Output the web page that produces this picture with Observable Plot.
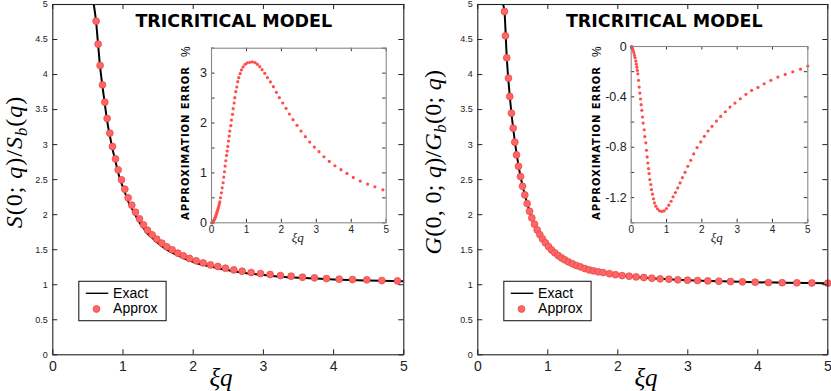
<!DOCTYPE html>
<html><head><meta charset="utf-8">
<script src="https://cdn.jsdelivr.net/npm/d3@7"></script>
<script src="https://cdn.jsdelivr.net/npm/@observablehq/plot@0.6"></script>
<style>
body{margin:0;background:#fff;}
#wrap{position:relative;width:831px;height:391px;overflow:hidden;background:#fff;}
#wrap svg{position:absolute;}
</style></head><body><div id="wrap"></div>
<script>
// ---------- data ----------
const titleText = "TRICRITICAL MODEL";
const legendLabels = ["Exact", "Approx"];
const insetLabel = "APPROXIMATION ERROR";

const mainXTicks = [0,1,2,3,4,5];
const mainYTicks = [0,0.5,1,1.5,2,2.5,3,3.5,4,4.5,5];
const insetXTicks = [0,1,2,3,4,5];
const sErrTicks = [0,0.5,1,1.5,2,2.5,3,3.5];
const sErrLabels = [0,1,2,3];
const gErrTicks = [0,-0.2,-0.4,-0.6,-0.8,-1.0,-1.2,-1.4];
const gErrLabels = [0,-0.4,-0.8,-1.2];

// Left panel: S(0;q)/S_b(q)
const sExactX = [0.584,0.617,0.646,0.674,0.708,0.741,0.774,0.812,0.850,0.893,0.931,0.978,1.026,1.073,1.125,1.178,1.235,1.292,1.349,1.415,1.481,1.553,1.624,1.700,1.781,1.861,1.947,2.042,2.2,2.4,2.6,2.8,3.0,3.3,3.6,4.0,4.5,5.0];
const sExactY = [5.0,4.75,4.42,4.11,3.83,3.58,3.34,3.13,2.94,2.76,2.60,2.45,2.32,2.19,2.09,1.99,1.89,1.81,1.73,1.67,1.61,1.55,1.50,1.46,1.42,1.38,1.345,1.31,1.27,1.225,1.19,1.16,1.14,1.11,1.095,1.075,1.062,1.05];
const sApproxX = [0.617,0.646,0.674,0.708,0.741,0.774,0.812,0.850,0.893,0.931,0.978,1.026,1.073,1.125,1.178,1.235,1.292,1.349,1.415,1.481,1.553,1.624,1.700,1.781,1.861,1.947,2.042,2.142,2.246,2.351,2.460,2.579,2.697,2.826,2.959,3.096,3.244,3.395,3.557,3.728,3.899,4.079,4.269,4.473,4.687,4.910];
const sApproxY = [4.762,4.434,4.129,3.853,3.606,3.373,3.164,2.973,2.797,2.640,2.498,2.364,2.241,2.136,2.036,1.941,1.855,1.779,1.713,1.651,1.594,1.541,1.499,1.451,1.413,1.375,1.342,1.312,1.283,1.260,1.236,1.212,1.193,1.174,1.160,1.146,1.131,1.122,1.107,1.098,1.088,1.079,1.074,1.070,1.060,1.055];
const sErrX = [0.005,0.02,0.03,0.038,0.05,0.067,0.08,0.095,0.11,0.124,0.14,0.152,0.165,0.181,0.195,0.210,0.225,0.238,0.257,0.286,0.305,0.333,0.352,0.371,0.390,0.410,0.429,0.448,0.467,0.486,0.505,0.524,0.552,0.571,0.600,0.619,0.648,0.667,0.695,0.724,0.752,0.781,0.819,0.857,0.905,0.962,1.019,1.095,1.171,1.248,1.314,1.381,1.448,1.524,1.600,1.686,1.771,1.857,1.943,2.038,2.133,2.229,2.333,2.448,2.562,2.686,2.810,2.943,3.076,3.219,3.371,3.533,3.705,3.876,4.057,4.257,4.467,4.676,4.905];
const sErrY = [0.0,0.004,0.008,0.013,0.025,0.047,0.065,0.087,0.112,0.140,0.17,0.201,0.23,0.268,0.30,0.341,0.38,0.421,0.502,0.602,0.702,0.803,0.916,1.023,1.137,1.244,1.351,1.438,1.532,1.639,1.739,1.839,1.946,2.060,2.174,2.288,2.401,2.508,2.629,2.722,2.829,2.910,2.990,3.064,3.124,3.177,3.204,3.217,3.224,3.211,3.177,3.130,3.070,2.997,2.910,2.823,2.729,2.615,2.508,2.401,2.294,2.181,2.067,1.953,1.839,1.726,1.619,1.518,1.425,1.324,1.231,1.144,1.064,0.990,0.910,0.836,0.776,0.722,0.662];

// Right panel: G(0,0;q)/G_b(0;q)
const gExactX = [0.362,0.381,0.414,0.457,0.505,0.557,0.610,0.672,0.739,0.810,0.886,0.967,1.053,1.148,1.243,1.353,1.467,1.591,1.720,1.881,2.062,2.262,2.486,2.729,2.996,3.286,3.610,3.962,4.348,4.772,5.0];
const gExactY = [5.0,4.90,4.24,3.69,3.235,2.85,2.544,2.282,2.049,1.864,1.716,1.597,1.497,1.417,1.355,1.298,1.255,1.212,1.184,1.157,1.131,1.112,1.093,1.079,1.065,1.055,1.046,1.036,1.029,1.025,1.022];
const gApproxX = [0.381,0.395,0.414,0.438,0.457,0.481,0.505,0.529,0.553,0.581,0.610,0.639,0.672,0.705,0.739,0.772,0.810,0.848,0.886,0.924,0.967,1.010,1.053,1.100,1.148,1.196,1.243,1.296,1.353,1.410,1.467,1.529,1.591,1.653,1.720,1.791,1.881,1.967,2.062,2.162,2.262,2.372,2.486,2.605,2.729,2.858,2.996,3.139,3.286,3.443,3.610,3.781,3.962,4.153,4.348,4.558,4.772,5.0];
const gApproxY = [4.900,4.553,4.239,3.949,3.687,3.449,3.235,3.035,2.853,2.691,2.544,2.406,2.282,2.158,2.049,1.954,1.864,1.783,1.716,1.654,1.597,1.545,1.497,1.455,1.417,1.383,1.355,1.326,1.298,1.274,1.255,1.231,1.212,1.198,1.184,1.174,1.157,1.143,1.131,1.122,1.112,1.103,1.093,1.084,1.079,1.070,1.065,1.060,1.055,1.050,1.046,1.041,1.036,1.031,1.029,1.027,1.025,1.022];
const gErrX = [0.005,0.019,0.03,0.04,0.056,0.075,0.094,0.11,0.132,0.145,0.160,0.175,0.188,0.207,0.226,0.245,0.264,0.282,0.301,0.320,0.339,0.367,0.386,0.414,0.433,0.452,0.471,0.490,0.508,0.527,0.556,0.574,0.603,0.631,0.659,0.697,0.744,0.800,0.866,0.932,0.998,1.064,1.130,1.186,1.252,1.318,1.384,1.450,1.525,1.601,1.686,1.770,1.864,1.968,2.072,2.175,2.288,2.411,2.533,2.665,2.797,2.938,3.089,3.249,3.409,3.588,3.766,3.955,4.153,4.360,4.576,4.793,5.0];
const gErrY = [-0.002,0.0,-0.012,-0.018,-0.032,-0.05,-0.071,-0.09,-0.116,-0.14,-0.164,-0.19,-0.217,-0.269,-0.322,-0.370,-0.417,-0.462,-0.507,-0.560,-0.608,-0.661,-0.715,-0.765,-0.824,-0.877,-0.925,-0.970,-1.009,-1.057,-1.096,-1.136,-1.173,-1.210,-1.242,-1.268,-1.289,-1.305,-1.310,-1.305,-1.287,-1.260,-1.229,-1.194,-1.160,-1.123,-1.083,-1.041,-0.999,-0.951,-0.904,-0.853,-0.803,-0.758,-0.713,-0.671,-0.634,-0.592,-0.555,-0.518,-0.481,-0.449,-0.415,-0.380,-0.349,-0.325,-0.296,-0.269,-0.243,-0.222,-0.201,-0.180,-0.155];

// ---------- drawing ----------
const wrap = document.getElementById("wrap");
const SANS = "'Liberation Sans', Arial, Helvetica, sans-serif";
const SERIF = "'Liberation Serif', 'Times New Roman', serif";
const BOLD = "'DejaVu Sans', sans-serif";
const toRows = (xs, ys) => xs.map((x, i) => ({x, y: ys[i]}));

function mainPanel({left, width, mL, mR, exX, exY, apX, apY, yLabelParts, yLabelX, yLabelFont, yLabelSpacing, xLabelCx, titleCx}) {
  const H = 391, mT = 4, mB = 36.7;
  const innerH = H - mT - mB, innerW = width - mL - mR;
  const svg = Plot.plot({
    width, height: H, marginLeft: mL, marginRight: mR, marginTop: mT, marginBottom: mB,
    x: {domain: [0, 5]}, y: {domain: [0, 5]},
    style: {fontFamily: SANS, background: "transparent", overflow: "visible", color: "#222"},
    marks: [
      Plot.line(toRows(exX, exY), {x: "x", y: "y", stroke: "#000", strokeWidth: 2, curve: "monotone-x", clip: true}),
      Plot.dot(toRows(apX, apY), {x: "x", y: "y", r: 3.4, fill: "#ff6666", stroke: "#e84848", strokeWidth: 0.8}),
      Plot.tickX(mainXTicks, {x: d => d, insetTop: innerH - 5, stroke: "#222"}),
      Plot.tickX(mainXTicks, {x: d => d, insetBottom: innerH - 5, stroke: "#222"}),
      Plot.tickY(mainYTicks, {y: d => d, insetRight: innerW - 5, stroke: "#222"}),
      Plot.tickY(mainYTicks, {y: d => d, insetLeft: innerW - 5, stroke: "#222"}),
      Plot.axisX(mainXTicks, {tickSize: 0, tickPadding: 6, fontSize: 14, label: null, tickFormat: d => String(d)}),
      Plot.axisY(mainYTicks, {tickSize: 0, tickPadding: 5, fontSize: 9, label: null, tickFormat: d => String(d)}),
      Plot.frame({stroke: "#222", strokeWidth: 1.1})
    ]
  });
  svg.style.left = left + "px";
  svg.style.top = "0px";
  wrap.appendChild(svg);
  const s = d3.select(svg);
  // title
  s.append("text").attr("x", titleCx).attr("y", 26.7).attr("text-anchor", "middle")
    .attr("font-family", BOLD).attr("font-weight", "bold").attr("font-size", 17.5).attr("fill", "#000")
    .text(titleText);
  // x label
  s.append("text").attr("x", xLabelCx).attr("y", 385.5).attr("text-anchor", "middle")
    .attr("font-family", SERIF).attr("font-style", "italic").attr("font-size", 25).attr("fill", "#000")
    .text("ξq");
  // y label
  const yl = s.append("text").attr("transform", `translate(${yLabelX},162) rotate(-90)`)
    .attr("text-anchor", "middle").attr("font-family", SERIF).attr("font-size", yLabelFont)
    .attr("letter-spacing", yLabelSpacing).attr("fill", "#000");
  for (const [t, it, sub] of yLabelParts) {
    const ts = yl.append("tspan").text(t).attr("font-style", it ? "italic" : "normal");
    if (sub === 1) ts.attr("font-size", yLabelFont * 0.7).attr("dy", 5);
    if (sub === -1) ts.attr("dy", -5);
  }
  // legend
  const g = s.append("g").attr("text-anchor", "start");
  g.append("rect").attr("x", mL + 26.5).attr("y", 281.3).attr("width", 87.3).attr("height", 39.4)
    .attr("fill", "#fff").attr("stroke", "#222").attr("stroke-width", 1.1);
  g.append("line").attr("x1", mL + 33.5).attr("x2", mL + 56).attr("y1", 293.3).attr("y2", 293.3)
    .attr("stroke", "#000").attr("stroke-width", 1.4);
  g.append("circle").attr("cx", mL + 44.2).attr("cy", 309).attr("r", 3.4)
    .attr("fill", "#ff6666").attr("stroke", "#e84848").attr("stroke-width", 0.8);
  g.append("text").attr("x", mL + 60.8).attr("y", 297.6).attr("text-anchor", "start").attr("font-family", SANS).attr("font-size", 14).attr("fill", "#000").text(legendLabels[0]);
  g.append("text").attr("x", mL + 60.8).attr("y", 312.8).attr("text-anchor", "start").attr("font-family", SANS).attr("font-size", 14).attr("fill", "#000").text(legendLabels[1]);
}

function insetPanel({left, top, width, height, mL, mR, mT, mB, yDomain, yTicks, yLabels, xs, ys, labelX, pctX, xLabelCx}) {
  const innerH = height - mT - mB, innerW = width - mL - mR;
  const svg = Plot.plot({
    width, height, marginLeft: mL, marginRight: mR, marginTop: mT, marginBottom: mB,
    x: {domain: [0, 5]}, y: {domain: yDomain},
    style: {fontFamily: SANS, background: "transparent", overflow: "visible", color: "#222"},
    marks: [
      Plot.dot(toRows(xs, ys), {x: "x", y: "y", r: 1.6, fill: "#ff4d4d", stroke: "none"}),
      Plot.tickX(insetXTicks, {x: d => d, insetTop: innerH - 3.5, stroke: "#333"}),
      Plot.tickX(insetXTicks, {x: d => d, insetBottom: innerH - 3.5, stroke: "#333"}),
      Plot.tickY(yTicks, {y: d => d, insetRight: innerW - 3.5, stroke: "#333"}),
      Plot.tickY(yTicks, {y: d => d, insetLeft: innerW - 3.5, stroke: "#333"}),
      Plot.axisX(insetXTicks, {tickSize: 0, tickPadding: 3, fontSize: 10, label: null, tickFormat: d => String(d)}),
      Plot.axisY(yLabels, {tickSize: 0, tickPadding: 4.5, fontSize: 12.5, label: null, tickFormat: d => String(d)}),
      Plot.frame({stroke: "#888", strokeWidth: 1.1})
    ]
  });
  svg.style.left = left + "px";
  svg.style.top = top + "px";
  wrap.appendChild(svg);
  const s = d3.select(svg);
  s.append("text").attr("transform", `translate(${labelX},${220 - top}) rotate(-90)`)
    .attr("text-anchor", "start")
    .attr("font-family", BOLD).attr("font-weight", "bold").attr("font-size", 10).attr("fill", "#000")
    .attr("textLength", 153).attr("lengthAdjust", "spacing")
    .text(insetLabel);
  s.append("text").attr("transform", `translate(${pctX},${57 - top}) rotate(-90)`)
    .attr("text-anchor", "start")
    .attr("font-family", SANS).attr("font-size", 12).attr("fill", "#000").text("%");
  s.append("text").attr("x", xLabelCx).attr("y", 242 - top).attr("text-anchor", "middle")
    .attr("font-family", SERIF).attr("font-style", "italic").attr("font-size", 13).attr("fill", "#222").text("ξq");
}

mainPanel({
  left: 0, width: 415, mL: 52.3, mR: 11.7,
  exX: sExactX, exY: sExactY, apX: sApproxX, apY: sApproxY,
  yLabelParts: [["S", 1], ["(0; ", 0], ["q", 1], [")/", 0], ["S", 1], ["b", 1, 1], ["(", 0, -1], ["q", 1], [")", 0]],
  yLabelX: 21.5, yLabelFont: 24, yLabelSpacing: 1, xLabelCx: 221, titleCx: 233.8
});
mainPanel({
  left: 415, width: 416, mL: 62.3, mR: 3.7,
  exX: gExactX, exY: gExactY, apX: gApproxX, apY: gApproxY,
  yLabelParts: [["G", 1], ["(0, 0; ", 0], ["q", 1], [")/", 0], ["G", 1], ["b", 1, 1], ["(0; ", 0, -1], ["q", 1], [")", 0]],
  yLabelX: 26, yLabelFont: 24, yLabelSpacing: 0.3, xLabelCx: 231, titleCx: 249.3
});
insetPanel({
  left: 160, top: 30, width: 235, height: 215, mL: 51, mR: 9.3, mT: 17.7, mB: 22.7,
  yDomain: [0, 3.5], yTicks: sErrTicks, yLabels: sErrLabels, xs: sErrX, ys: sErrY,
  labelX: 28.5, pctX: 30, xLabelCx: 137.7
});
insetPanel({
  left: 575, top: 30, width: 240, height: 215, mL: 55.7, mR: 7.7, mT: 16, mB: 22.7,
  yDomain: [-1.4, 0], yTicks: gErrTicks, yLabels: gErrLabels, xs: gErrX, ys: gErrY,
  labelX: 24.5, pctX: 26, xLabelCx: 141.7
});
</script></body></html>
